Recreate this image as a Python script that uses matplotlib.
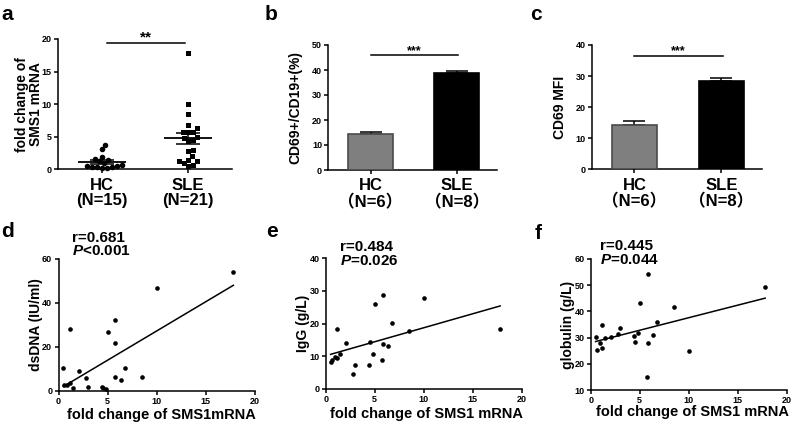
import numpy as np
import matplotlib.pyplot as plt
from matplotlib.transforms import blended_transform_factory

W, H = 794, 428

###--- DATA ---###
groups = ['HC', 'SLE']
hc_fold = [3.7, 3.1, 1.9, 1.6, 1.5, 1.2, 0.9, 0.6, 0.5, 0.5, 0.4, 0.4, 0.3, 0.2, 0.2]
sle_fold = [0.5, 0.6, 0.9, 1.2, 1.2, 1.5, 2.1, 2.8, 3.0, 4.4, 4.5, 4.8, 5.0,
            5.7, 5.8, 5.8, 6.4, 6.8, 8.5, 10.0, 17.8]
a_ticklabels = ['HC\n(N=15)', 'SLE\n(N=21)']

cd69_pct_mean = [14.3, 38.9]
cd69_pct_sem = [1.0, 0.8]
cd69_mfi_mean = [14.3, 28.5]
cd69_mfi_sem = [1.3, 1.0]
bc_ticklabels = ['HC\n（N=6）', 'SLE\n（N=8）']

# correlations use the SLE fold change (same order as sle_fold)
dsdna = [10.2, 2.5, 2.5, 28.2, 3.5, 1.2, 8.8, 5.6, 1.7, 1.5, 1.2, 0.8, 26.6,
         32.2, 21.6, 6.4, 4.9, 10.3, 6.1, 47.0, 54.0]
igg = [8.4, 8.9, 9.9, 18.3, 9.4, 10.6, 14.2, 4.5, 7.2, 7.2, 14.4, 10.6, 25.9,
       8.8, 28.9, 13.9, 13.1, 20.3, 17.9, 27.8, 18.5]
globulin = [30.2, 25.3, 28.1, 34.8, 25.9, 30.0, 30.4, 31.4, 33.8, 30.6, 28.3,
            31.6, 43.1, 15.1, 54.1, 27.9, 31.0, 36.1, 41.6, 24.9, 49.2]

###--- STYLE ---###
plt.rcParams['font.family'] = ['Liberation Sans', 'Noto Sans CJK SC']
plt.rcParams['font.weight'] = 'bold'
plt.rcParams['axes.labelweight'] = 'bold'
plt.rcParams['mathtext.fontset'] = 'custom'
plt.rcParams['mathtext.it'] = 'Liberation Sans:italic:bold'
plt.rcParams['mathtext.rm'] = 'Liberation Sans:bold'
plt.rcParams['axes.linewidth'] = 1.1

fig = plt.figure(figsize=(W / 100, H / 100), dpi=100)


def add_axes(left, right, top, bottom):
    return fig.add_axes([left / W, 1 - bottom / H, (right - left) / W, (bottom - top) / H])


def style_axes(ax):
    for s in ['top', 'right']:
        ax.spines[s].set_visible(False)
    ax.tick_params(direction='out', length=3, width=1.1, labelsize=6.5, pad=1.5)
    for lab in ax.get_xticklabels() + ax.get_yticklabels():
        lab.set_fontweight('bold')


def set_ylabel(ax, text, right_px, size=10):
    ax.set_ylabel(text, fontsize=size, fontweight='bold', linespacing=1.0)
    tr = blended_transform_factory(fig.transFigure, ax.transAxes)
    ax.yaxis.set_label_coords(right_px / W, 0.5, transform=tr)


def set_xlabel(ax, text, cx_px, top_px, size=10.5):
    ax.set_xlabel(text, fontsize=size, fontweight='bold')
    ax.xaxis.set_label_coords(cx_px / W, 1 - top_px / H, transform=fig.transFigure)


def swarm(ax, xc, vals, diam_px):
    # simple beeswarm in pixel space
    vals = np.asarray(vals, float)
    ypx = ax.transData.transform(np.column_stack([np.full(len(vals), xc), vals]))[:, 1]
    x0 = ax.transData.transform((xc, 0))[0]
    x1 = ax.transData.transform((xc + 1, 0))[0]
    per_unit = x1 - x0
    cands = np.arange(0, 40, 0.5)
    cands = np.concatenate([[0], np.ravel(np.column_stack([cands[1:], -cands[1:]]))])
    placed = []
    offs = np.zeros(len(vals))
    for i in np.argsort(vals):
        for c in cands:
            ok = all((c - px) ** 2 + (ypx[i] - py) ** 2 >= diam_px ** 2 for px, py in placed)
            if ok:
                placed.append((c, ypx[i]))
                offs[i] = c
                break
    return xc + offs / per_unit


def sig(ax, x0, x1, y, stars, size):
    ax.plot([x0, x1], [y, y], color='black', lw=1.1, clip_on=False)
    ax.annotate(stars, xy=((x0 + x1) / 2, y), xytext=(0, 1), textcoords='offset points',
                ha='center', va='baseline', fontsize=size, fontweight='bold')


def cat_ticks(ax, labels):
    ax.set_xticks(range(len(labels)))
    ax.set_xticklabels(labels, fontsize=12, fontweight='bold', linespacing=1.05)
    ax.tick_params(axis='x', pad=3)


###--- a: scatter dot plot ---###
ax = add_axes(58, 232, 39, 169.3)
ax.set_xlim(-0.51, 1.51)
ax.set_ylim(0, 20)
ax.set_yticks([0, 5, 10, 15, 20])
style_axes(ax)
cat_ticks(ax, a_ticklabels)
for i, (vals, mk, ms) in enumerate([(hc_fold, 'o', 4.0), (sle_fold, 's', 3.6)]):
    xs = swarm(ax, i, vals, 5.0)
    ax.plot(xs, vals, mk, color='black', ms=ms, mew=0, clip_on=False, zorder=3)
    m = np.mean(vals)
    sem = np.std(vals, ddof=1) / np.sqrt(len(vals))
    ax.hlines(m, i - 0.28, i + 0.28, color='black', lw=1.3, zorder=4)
    ax.errorbar(i, m, yerr=sem, fmt='none', ecolor='black', elinewidth=1.1,
                capsize=8.6, capthick=1.1, zorder=4)
sig(ax, 0.06, 0.97, 19.4, '**', 11)
set_ylabel(ax, 'fold change of\nSMS1 mRNA', 43)
fig.text(1 / W, 1 - 20 / H, 'a', fontsize=15, fontweight='bold')

###--- b, c: bar charts ---###
bar_specs = [
    (cd69_pct_mean, cd69_pct_sem, (328.3, 497.3, 45, 170), 50, [0, 10, 20, 30, 40, 50],
     45.9, 'CD69+/CD19+(%)', 302, 'b', 265),
    (cd69_mfi_mean, cd69_mfi_sem, (591.7, 762.3, 45, 169.3), 40, [0, 10, 20, 30, 40],
     36.6, 'CD69 MFI', 567, 'c', 530),
]
for means, sems, box, ytop, yt, sy, ylab, ylab_x, letter, lx in bar_specs:
    ax = add_axes(*box)
    ax.set_xlim(-0.49, 1.47)
    ax.set_ylim(0, ytop)
    ax.set_yticks(yt)
    style_axes(ax)
    cat_ticks(ax, bc_ticklabels)
    x = np.arange(len(groups))
    ax.errorbar(x, means, yerr=[[0, 0], sems], fmt='none', ecolor='black',
                elinewidth=1.1, capsize=7.8, capthick=1.1, zorder=2)
    ax.bar(x, means, width=0.52, color=['#7f7f7f', 'black'],
           edgecolor=['#4a4a4a', 'black'], linewidth=1.2, zorder=3)
    sig(ax, 0.0, 1.02, sy, '***', 9)
    set_ylabel(ax, ylab, ylab_x)
    fig.text(lx / W, 1 - 20 / H, letter, fontsize=15, fontweight='bold')

###--- d, e, f: correlations ---###
corr_specs = [
    (dsdna, (58.5, 255, 259, 390.7), (0, 60), [0, 20, 40, 60], 'dsDNA (IU/ml)', 43,
     'fold change of SMS1mRNA', 161.7, 408, 'r=0.681', '$P$<0.001', 71.7, 242, 255, 'd', 1, 237),
    (igg, (325.7, 521.7, 258.3, 389), (0, 40), [0, 10, 20, 30, 40], 'IgG (g/L)', 310,
     'fold change of SMS1 mRNA', 426.7, 407, 'r=0.484', '$P$=0.026', 340, 251, 265, 'e', 266, 237),
    (globulin, (590.7, 786.7, 259, 390), (10, 60), [10, 20, 30, 40, 50, 60], 'globulin (g/L)', 575,
     'fold change of SMS1 mRNA', 692, 405, 'r=0.445', '$P$=0.044', 600, 250, 264, 'f', 535, 239),
]
for yv, box, ylim, yt, ylab, ylab_x, xlab, xlab_cx, xlab_top, rtxt, ptxt, tx, ry, py, letter, lx, ly in corr_specs:
    ax = add_axes(*box)
    ax.set_xlim(0, 20)
    ax.set_ylim(*ylim)
    ax.set_xticks([0, 5, 10, 15, 20])
    ax.set_yticks(yt)
    style_axes(ax)
    ax.scatter(sle_fold, yv, s=11, color='black', lw=0, clip_on=False, zorder=3)
    k, b0 = np.polyfit(sle_fold, yv, 1)
    xx = np.array([min(sle_fold), max(sle_fold)])
    ax.plot(xx, k * xx + b0, color='black', lw=1.1)
    set_ylabel(ax, ylab, ylab_x)
    set_xlabel(ax, xlab, xlab_cx, xlab_top)
    fig.text(tx / W, 1 - ry / H, rtxt, fontsize=11, fontweight='bold', va='baseline')
    fig.text(tx / W, 1 - py / H, ptxt, fontsize=11, fontweight='bold', va='baseline')
    fig.text(lx / W, 1 - ly / H, letter, fontsize=15, fontweight='bold')

fig.savefig('out.png', dpi=100)
